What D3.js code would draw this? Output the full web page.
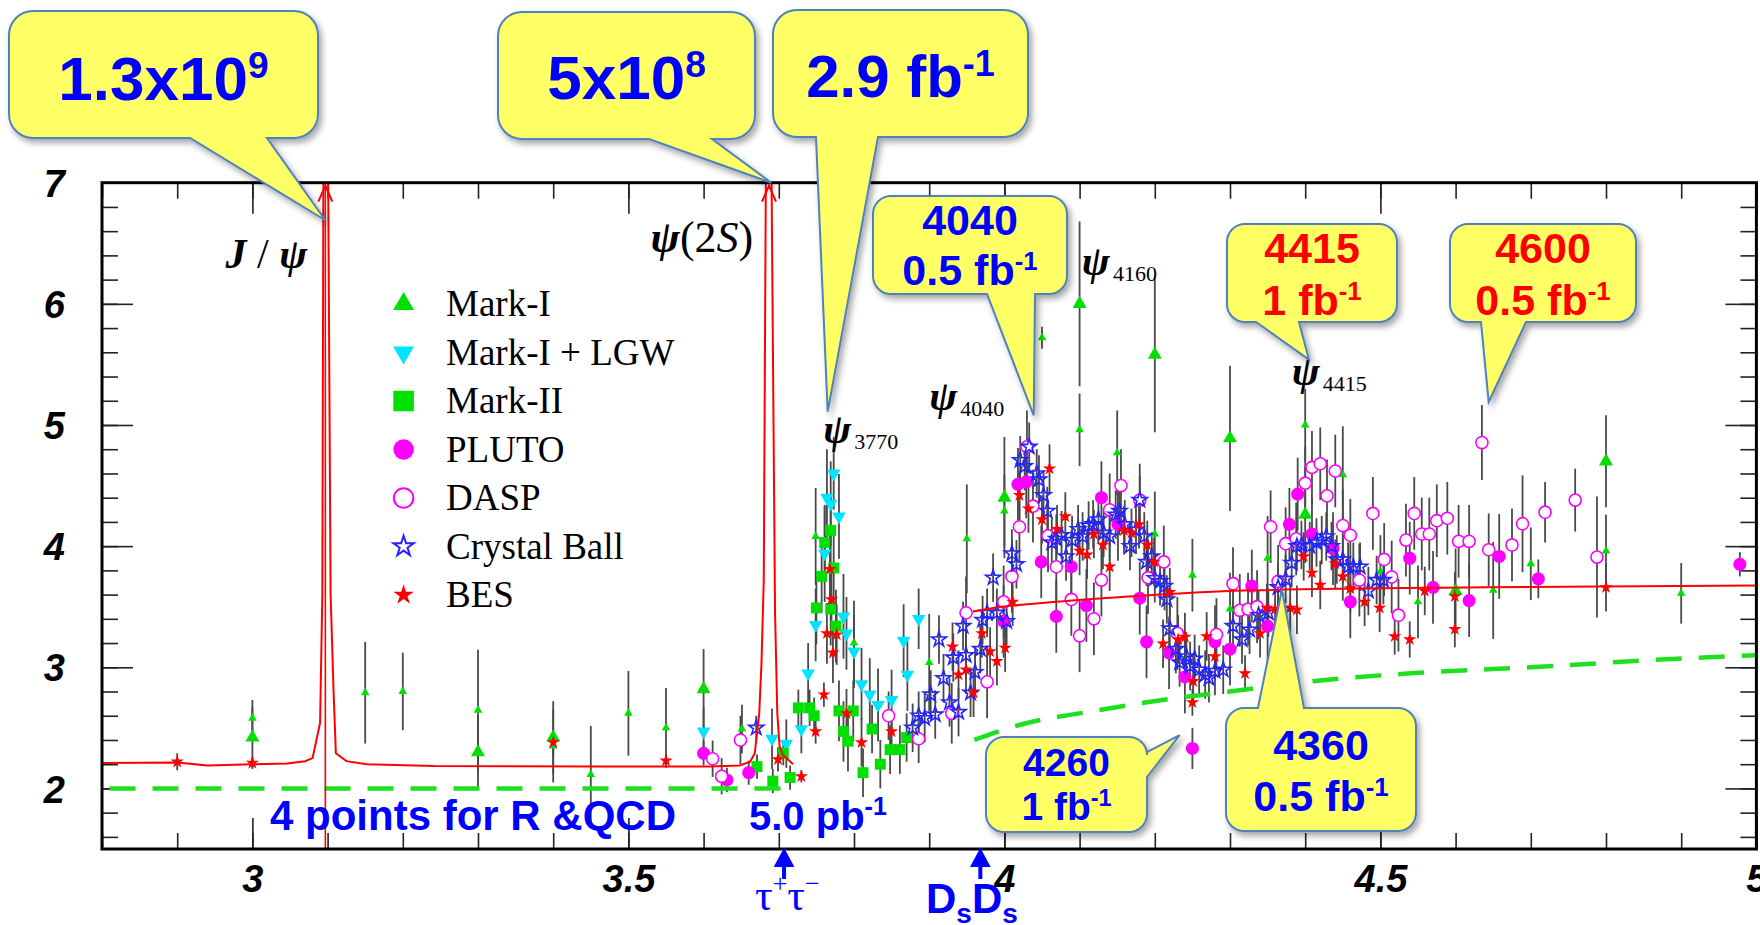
<!DOCTYPE html>
<html>
<head>
<meta charset="utf-8">
<title>R scan with BES callouts</title>
<style>
  body { margin: 0; background: #fff; }
  svg text { font-family: "Liberation Sans", Arial, sans-serif; }
  .tick text { font: italic bold 38px "Liberation Sans", Arial, sans-serif; fill: #000; }
  .legend text { font: 37px "Liberation Serif", "Times New Roman", serif; }
</style>
<script src="https://cdnjs.cloudflare.com/ajax/libs/d3/7.8.5/d3.min.js"></script>
</head>
<body>
<svg id="chart" width="1760" height="925"></svg>
<script>
// ---- data: [E (GeV), R, error] ----
const xTickLabels = [3, 3.5, 4, 4.5, 5];
const yTickLabels = [2, 3, 4, 5, 6, 7];

const markI = [
  [3.00, 2.42, 0.25], [3.30, 2.30, 0.30], [3.40, 2.42, 0.30], [3.60, 2.82, 0.33],
  [4.00, 4.40, 0.50], [4.10, 6.00, 0.68], [4.20, 5.58, 0.64], [4.30, 4.89, 0.60],
  [4.40, 4.26, 0.40], [4.60, 3.63, 0.35], [4.80, 4.70, 0.38]
];
const markISmall = [
  [3.00, 2.58, 0.15], [3.15, 2.79, 0.42], [3.20, 2.80, 0.32], [3.30, 2.645, 0.50],
  [3.40, 2.35, 0.30], [3.45, 2.115, 0.40], [3.50, 2.62, 0.35], [3.55, 2.50, 0.33],
  [3.651, 2.49, 0.20], [3.749, 4.08, 0.40], [3.80, 3.20, 0.35], [3.90, 3.04, 0.40],
  [3.95, 4.06, 0.45], [4.00, 4.29, 0.30], [4.05, 5.72, 0.09], [4.10, 4.96, 0.30],
  [4.15, 4.77, 0.35], [4.20, 4.10, 0.35], [4.25, 3.76, 0.30], [4.30, 3.48, 0.30],
  [4.35, 3.90, 0.35], [4.40, 5.00, 0.30], [4.45, 4.59, 0.40], [4.50, 3.79, 0.30],
  [4.55, 3.54, 0.30], [4.65, 3.635, 0.40], [4.70, 3.855, 0.30], [4.80, 3.96, 0.30],
  [4.90, 3.61, 0.25]
];
const markILGW = [
  [3.600, 2.47, 0.20], [3.691, 2.41, 0.25], [3.710, 2.37, 0.20], [3.730, 2.49, 0.20],
  [3.739, 2.95, 0.25], [3.749, 3.35, 0.30], [3.761, 3.94, 0.40], [3.764, 4.40, 0.40],
  [3.769, 4.35, 0.35], [3.773, 4.60, 0.30], [3.780, 4.245, 0.35], [3.786, 3.42, 0.35],
  [3.790, 3.28, 0.30], [3.800, 3.13, 0.30], [3.810, 2.86, 0.30], [3.821, 2.775, 0.30],
  [3.832, 2.69, 0.30], [3.850, 2.73, 0.25], [3.866, 3.22, 0.30], [3.871, 2.94, 0.30],
  [3.886, 3.40, 0.25]
];
const markII = [
  [3.671, 2.18, 0.10], [3.692, 2.06, 0.10], [3.706, 2.29, 0.10], [3.715, 2.09, 0.10],
  [3.726, 2.665, 0.15], [3.741, 2.665, 0.15], [3.747, 2.60, 0.15], [3.750, 3.49, 0.30],
  [3.757, 3.75, 0.30], [3.761, 4.03, 0.30], [3.769, 4.13, 0.30], [3.773, 3.82, 0.30],
  [3.769, 3.48, 0.30], [3.776, 3.34, 0.30], [3.780, 2.64, 0.25], [3.786, 2.47, 0.25],
  [3.792, 2.39, 0.25], [3.799, 2.64, 0.25], [3.812, 2.13, 0.20], [3.824, 2.49, 0.20],
  [3.835, 2.20, 0.20], [3.848, 2.32, 0.20], [3.861, 2.32, 0.20], [3.870, 2.42, 0.20]
];
const pluto = [
  [3.600, 2.29, 0.10], [3.631, 2.07, 0.10], [3.660, 2.13, 0.10], [3.999, 3.38, 0.30],
  [4.018, 4.51, 0.30], [4.029, 4.53, 0.30], [4.049, 3.87, 0.30], [4.069, 3.42, 0.30],
  [4.089, 3.83, 0.30], [4.109, 3.51, 0.30], [4.129, 4.40, 0.30], [4.151, 4.18, 0.30],
  [4.180, 3.57, 0.30], [4.189, 3.21, 0.30], [4.219, 3.12, 0.30], [4.240, 2.92, 0.30],
  [4.250, 2.33, 0.17], [4.280, 3.21, 0.30], [4.300, 3.15, 0.30], [4.329, 3.67, 0.30],
  [4.350, 3.34, 0.30], [4.379, 4.18, 0.30], [4.390, 4.43, 0.30], [4.409, 4.10, 0.30],
  [4.437, 3.98, 0.30], [4.460, 3.54, 0.30], [4.539, 3.90, 0.30], [4.570, 3.66, 0.30],
  [4.618, 3.55, 0.30], [4.658, 3.915, 0.35], [4.710, 3.73, 0.16], [4.978, 3.85, 0.10]
];
const dasp = [
  [3.612, 2.245, 0.15], [3.624, 2.10, 0.15], [3.649, 2.40, 0.20], [3.846, 2.60, 0.20],
  [3.886, 2.41, 0.20], [3.930, 2.62, 0.25], [3.949, 3.45, 0.30], [3.977, 2.88, 0.30],
  [3.999, 3.54, 0.30], [4.010, 3.75, 0.30], [4.020, 4.16, 0.30], [4.030, 4.82, 0.30],
  [4.038, 4.33, 0.30], [4.058, 4.085, 0.30], [4.069, 3.83, 0.30], [4.089, 3.56, 0.30],
  [4.100, 3.26, 0.30], [4.119, 3.40, 0.30], [4.129, 3.72, 0.30], [4.140, 4.30, 0.30],
  [4.155, 4.50, 0.30], [4.180, 4.38, 0.30], [4.191, 3.74, 0.30], [4.212, 3.87, 0.30],
  [4.230, 3.28, 0.30], [4.282, 3.27, 0.30], [4.304, 3.69, 0.30], [4.313, 3.47, 0.30],
  [4.324, 3.48, 0.30], [4.336, 3.50, 0.30], [4.354, 4.16, 0.30], [4.364, 3.71, 0.30],
  [4.374, 4.02, 0.30], [4.388, 4.06, 0.30], [4.400, 4.52, 0.30], [4.409, 4.65, 0.30],
  [4.420, 4.68, 0.30], [4.429, 4.415, 0.30], [4.440, 4.62, 0.30], [4.450, 4.17, 0.30],
  [4.460, 4.09, 0.30], [4.472, 3.72, 0.30], [4.490, 4.27, 0.30], [4.505, 3.89, 0.30],
  [4.515, 3.745, 0.30], [4.524, 3.43, 0.30], [4.534, 4.05, 0.30], [4.545, 4.27, 0.30],
  [4.555, 4.10, 0.30], [4.565, 4.10, 0.30], [4.575, 4.21, 0.30], [4.589, 4.23, 0.30],
  [4.604, 4.04, 0.30], [4.618, 4.04, 0.30], [4.635, 4.855, 0.31], [4.644, 3.97, 0.30],
  [4.675, 4.01, 0.30], [4.689, 4.185, 0.40], [4.719, 4.28, 0.25], [4.759, 4.38, 0.26],
  [4.788, 3.91, 0.50]
];
const crystalBall = [
  [3.670, 2.50, 0.10], [3.878, 2.50, 0.20], [3.886, 2.60, 0.20], [3.894, 2.58, 0.20],
  [3.902, 2.775, 0.20], [3.908, 2.61, 0.20], [3.913, 3.23, 0.20], [3.919, 2.91, 0.20],
  [3.927, 2.71, 0.20], [3.932, 3.08, 0.20], [3.939, 2.63, 0.20], [3.945, 3.34, 0.20],
  [3.949, 3.10, 0.20], [3.955, 2.79, 0.20], [3.961, 2.96, 0.20], [3.968, 3.15, 0.20],
  [3.971, 3.39, 0.20], [3.977, 3.45, 0.20], [3.985, 3.74, 0.20], [3.990, 3.45, 0.20],
  [4.003, 3.38, 0.20], [4.010, 3.94, 0.20], [4.016, 3.85, 0.20], [4.021, 4.71, 0.20],
  [4.027, 4.66, 0.20], [4.033, 4.82, 0.20], [4.043, 4.60, 0.20], [4.046, 4.55, 0.20],
  [4.052, 4.42, 0.20], [4.057, 4.29, 0.20], [4.063, 4.03, 0.20], [4.069, 4.06, 0.20],
  [4.076, 4.09, 0.20], [4.082, 3.915, 0.20], [4.090, 4.05, 0.20], [4.098, 4.14, 0.20],
  [4.104, 4.08, 0.20], [4.112, 4.17, 0.20], [4.118, 4.18, 0.20], [4.125, 4.22, 0.20],
  [4.132, 4.11, 0.20], [4.140, 4.08, 0.20], [4.148, 4.26, 0.20], [4.153, 4.29, 0.20],
  [4.160, 4.18, 0.20], [4.167, 4.00, 0.20], [4.175, 4.135, 0.20], [4.180, 4.38, 0.20],
  [4.186, 4.08, 0.20], [4.189, 3.87, 0.20], [4.196, 3.915, 0.20], [4.200, 3.735, 0.20],
  [4.207, 3.71, 0.20], [4.213, 3.67, 0.20], [4.216, 3.56, 0.20], [4.220, 3.32, 0.20],
  [4.228, 3.15, 0.20], [4.233, 3.04, 0.20], [4.242, 3.09, 0.20], [4.247, 3.01, 0.20],
  [4.253, 3.07, 0.20], [4.259, 2.98, 0.20], [4.267, 2.94, 0.20], [4.272, 2.91, 0.20],
  [4.280, 2.97, 0.20], [4.291, 2.98, 0.20], [4.304, 3.34, 0.20], [4.316, 3.23, 0.20],
  [4.326, 3.31, 0.20], [4.338, 3.43, 0.20], [4.351, 3.45, 0.20], [4.364, 3.66, 0.20],
  [4.374, 3.73, 0.20], [4.382, 3.86, 0.20], [4.389, 4.00, 0.20], [4.395, 4.01, 0.20],
  [4.406, 4.00, 0.20], [4.415, 4.03, 0.20], [4.422, 4.05, 0.20], [4.428, 4.08, 0.20],
  [4.435, 4.00, 0.20], [4.442, 3.89, 0.20], [4.450, 3.89, 0.20], [4.457, 3.83, 0.20],
  [4.464, 3.83, 0.20], [4.473, 3.83, 0.20], [4.484, 3.63, 0.20], [4.495, 3.72, 0.20],
  [4.504, 3.72, 0.20]
];
const bes = [
  [2.900, 2.22, 0.07], [3.000, 2.21, 0.05], [3.400, 2.38, 0.10], [3.550, 2.23, 0.05],
  [3.699, 2.24, 0.10], [3.730, 2.10, 0.05], [3.749, 2.47, 0.10], [3.760, 2.775, 0.10],
  [3.768, 3.81, 0.30], [3.770, 3.56, 0.30], [3.764, 3.28, 0.25], [3.777, 3.27, 0.25],
  [3.772, 3.12, 0.25], [3.790, 2.62, 0.20], [3.810, 2.38, 0.20], [3.850, 2.47, 0.15],
  [3.931, 3.17, 0.20], [3.939, 2.94, 0.20], [3.949, 2.98, 0.20], [3.959, 2.79, 0.20],
  [3.970, 3.28, 0.20], [3.981, 3.13, 0.20], [3.990, 3.05, 0.20], [4.001, 3.16, 0.20],
  [4.011, 3.54, 0.20], [4.020, 4.42, 0.20], [4.032, 4.31, 0.20], [4.050, 4.22, 0.20],
  [4.060, 4.64, 0.20], [4.070, 4.14, 0.20], [4.081, 4.245, 0.20], [4.100, 3.96, 0.20],
  [4.110, 3.93, 0.20], [4.119, 4.10, 0.20], [4.131, 4.01, 0.20], [4.140, 3.83, 0.20],
  [4.159, 4.13, 0.20], [4.169, 4.11, 0.20], [4.179, 4.18, 0.20], [4.190, 4.01, 0.20],
  [4.199, 3.87, 0.20], [4.211, 3.195, 0.20], [4.220, 3.62, 0.20], [4.231, 3.23, 0.20],
  [4.240, 3.25, 0.20], [4.251, 2.885, 0.20], [4.250, 2.71, 0.11], [4.269, 3.255, 0.20],
  [4.280, 3.09, 0.20], [4.320, 2.95, 0.15], [4.340, 3.28, 0.20], [4.349, 3.49, 0.20],
  [4.360, 3.48, 0.20], [4.380, 3.49, 0.20], [4.389, 3.475, 0.20], [4.398, 3.915, 0.20],
  [4.409, 3.78, 0.20], [4.420, 3.68, 0.20], [4.440, 3.855, 0.20], [4.450, 3.75, 0.20],
  [4.460, 3.65, 0.20], [4.479, 3.54, 0.20], [4.499, 3.49, 0.20], [4.519, 3.255, 0.15],
  [4.539, 3.23, 0.15], [4.559, 3.63, 0.20], [4.599, 3.315, 0.15], [4.599, 3.585, 0.20],
  [4.800, 3.66, 0.20]
];

// theory curves [E, R]
const fitLow = [
  [2.80, 2.21], [2.90, 2.215], [2.94, 2.19], [3.00, 2.20], [3.046, 2.205], [3.07, 2.225],
  [3.08, 2.25], [3.09, 2.54], [3.093, 3.6], [3.0945, 7.3], [3.1005, 7.3], [3.104, 3.6],
  [3.108, 2.79], [3.111, 2.29], [3.125, 2.225], [3.152, 2.20], [3.241, 2.185],
  [3.462, 2.18], [3.609, 2.18], [3.648, 2.19], [3.662, 2.22], [3.668, 2.29],
  [3.674, 2.62], [3.677, 3.04], [3.680, 3.72], [3.683, 7.3], [3.690, 7.3],
  [3.695, 3.45], [3.698, 2.62], [3.701, 2.35], [3.705, 2.28], [3.719, 2.20]
];
const fitHigh = [
  [3.958, 3.46], [3.985, 3.49], [4.07, 3.54], [4.207, 3.60], [4.33, 3.635],
  [4.64, 3.66], [5.00, 3.675]
];
const pqcdLow = [[2.81, 2.0], [3.72, 2.0]];
const pqcdHigh = [
  [3.96, 2.40], [4.03, 2.54], [4.11, 2.63], [4.21, 2.73], [4.30, 2.80],
  [4.41, 2.885], [4.54, 2.95], [4.73, 3.01], [4.86, 3.06], [5.00, 3.10]
];
const resonances = [3.097, 3.687];   // J/psi, psi(2S)

// ---- layout ----
const plot = {left: 102, right: 1756.4, top: 182.7, bottom: 849};
const blue = "#0000FF", red = "#FF0000", green = "#00E000",
      cyan = "#00E5FF", magenta = "#FF00FF", starBlue = "#2424FF";

const x = d3.scaleLinear().domain([2.8, 5.0]).range([plot.left, plot.right]);
const y = d3.scaleLinear().domain([1.5, 7.0]).range([plot.bottom, plot.top]);

const svg = d3.select("#chart");
const defs = svg.append("defs");
defs.append("clipPath").attr("id", "clip").append("rect")
  .attr("x", plot.left).attr("y", plot.top)
  .attr("width", plot.right - plot.left).attr("height", plot.bottom - plot.top);
defs.append("filter").attr("id", "shadow")
  .attr("x", "-10%").attr("y", "-10%").attr("width", "130%").attr("height", "130%")
  .append("feDropShadow").attr("dx", 3).attr("dy", 4).attr("stdDeviation", 3)
  .attr("flood-color", "#000").attr("flood-opacity", 0.35);

// ---- axes (ticks inside the frame) ----
const xMinor = d3.range(28, 51).map(d => d / 10);
const yMinor = d3.range(16, 71, 2).map(d => d / 10);

function axis(gen, t) {
  const g = svg.append("g").attr("transform", t).call(gen);
  g.select(".domain").remove();
  g.selectAll(".tick line").attr("stroke", "#222").attr("stroke-width", 1.6);
  return g;
}
const fmt = d => String(d);
axis(d3.axisBottom(x).tickValues(xMinor).tickSize(-16).tickFormat(""), `translate(0,${plot.bottom})`);
axis(d3.axisBottom(x).tickValues(xTickLabels).tickSize(-31).tickPadding(16).tickFormat(fmt), `translate(0,${plot.bottom})`);
axis(d3.axisTop(x).tickValues(xMinor).tickSize(-16).tickFormat(""), `translate(0,${plot.top})`);
axis(d3.axisTop(x).tickValues(xTickLabels).tickSize(-31).tickFormat(""), `translate(0,${plot.top})`);
axis(d3.axisLeft(y).tickValues(yMinor).tickSize(-16).tickFormat(""), `translate(${plot.left},0)`);
axis(d3.axisLeft(y).tickValues(yTickLabels).tickSize(-31).tickPadding(37).tickFormat(fmt), `translate(${plot.left},0)`)
  .selectAll("text").attr("dy", "0.36em");
axis(d3.axisRight(y).tickValues(yMinor).tickSize(-16).tickFormat(""), `translate(${plot.right},0)`);
axis(d3.axisRight(y).tickValues(yTickLabels).tickSize(-31).tickFormat(""), `translate(${plot.right},0)`);

// ---- data ----
const series = [
  {data: markI, symbol: d3.symbolTriangle, size: 85, fill: green},
  {data: markISmall, symbol: d3.symbolTriangle, size: 32, fill: green},
  {data: markILGW, symbol: d3.symbolTriangle, size: 80, fill: cyan, rot: 180},
  {data: markII, symbol: d3.symbolSquare, size: 120, fill: green},
  {data: pluto, symbol: d3.symbolCircle, size: 135, fill: magenta},
  {data: dasp, symbol: d3.symbolCircle, size: 115, fill: "#fff", stroke: magenta},
  {data: crystalBall, symbol: d3.symbolStar, size: 70, fill: "none", stroke: starBlue},
  {data: bes, symbol: d3.symbolStar, size: 55, fill: red}
];

const inner = svg.append("g").attr("clip-path", "url(#clip)");

const eb = inner.append("g").attr("stroke", "#2a2a2a").attr("stroke-width", 1.8).attr("opacity", 0.85);
series.forEach(s => {
  eb.selectAll(null).data(s.data).join("line")
    .attr("x1", d => x(d[0])).attr("x2", d => x(d[0]))
    .attr("y1", d => y(d[1] - d[2])).attr("y2", d => y(d[1] + d[2]));
});

series.forEach(s => {
  inner.append("g").selectAll("path").data(s.data).join("path")
    .attr("d", d3.symbol(s.symbol, s.size))
    .attr("transform", d => `translate(${x(d[0])},${y(d[1])})` + (s.rot ? ` rotate(${s.rot})` : ""))
    .attr("fill", s.fill)
    .attr("stroke", s.stroke || "none")
    .attr("stroke-width", 1.6);
});

// curves
const line = d3.line().x(d => x(d[0])).y(d => y(d[1]));
inner.append("path").datum(fitLow).attr("d", line)
  .attr("fill", "none").attr("stroke", red).attr("stroke-width", 2);
inner.append("path").datum(fitHigh).attr("d", line.curve(d3.curveMonotoneX))
  .attr("fill", "none").attr("stroke", red).attr("stroke-width", 2);
[pqcdLow, pqcdHigh].forEach(p => {
  inner.append("path").datum(p).attr("d", line.curve(d3.curveMonotoneX))
    .attr("fill", "none").attr("stroke", "#1EE01E").attr("stroke-width", 4.5)
    .attr("stroke-dasharray", "26,17");
});
// J/psi full-height line and top arrows
inner.append("line")
  .attr("x1", x(resonances[0])).attr("x2", x(resonances[0]))
  .attr("y1", y(1.5)).attr("y2", y(7)).attr("stroke", red).attr("stroke-width", 1.6);
inner.selectAll(null).data(resonances).join("path")
  .attr("d", d => `M${x(d) - 7},${plot.top + 19}L${x(d)},${plot.top + 3}L${x(d) + 7},${plot.top + 19}`)
  .attr("fill", "none").attr("stroke", red).attr("stroke-width", 2);

// frame
svg.append("rect")
  .attr("x", plot.left).attr("y", plot.top)
  .attr("width", plot.right - plot.left).attr("height", plot.bottom - plot.top)
  .attr("fill", "none").attr("stroke", "#000").attr("stroke-width", 3);

// ---- legend ----
const legend = [
  {name: "Mark-I", symbol: d3.symbolTriangle, size: 190, fill: green},
  {name: "Mark-I + LGW", symbol: d3.symbolTriangle, size: 190, fill: cyan, rot: 180},
  {name: "Mark-II", symbol: d3.symbolSquare, size: 420, fill: green},
  {name: "PLUTO", symbol: d3.symbolCircle, size: 330, fill: magenta},
  {name: "DASP", symbol: d3.symbolCircle, size: 300, fill: "none", stroke: magenta},
  {name: "Crystal Ball", symbol: d3.symbolStar, size: 130, fill: "none", stroke: starBlue},
  {name: "BES", symbol: d3.symbolStar, size: 130, fill: red}
];
const lg = svg.append("g").attr("class", "legend");
legend.forEach((l, i) => {
  const cy = 304 + i * 48.5;
  lg.append("path").attr("d", d3.symbol(l.symbol, l.size))
    .attr("transform", `translate(403.6,${cy})` + (l.rot ? ` rotate(${l.rot})` : ""))
    .attr("fill", l.fill).attr("stroke", l.stroke || "none").attr("stroke-width", 2);
  lg.append("text").attr("x", 446).attr("y", cy + 12).text(l.name);
});

// ---- resonance labels ----
function psiLabel(E, R, sub) {
  const t = svg.append("text").attr("x", x(E)).attr("y", y(R))
    .style("font-family", "'Liberation Serif', serif");
  t.append("tspan").text("ψ").attr("font-size", 42).attr("font-style", "italic").attr("font-weight", "bold");
  t.append("tspan").text(sub).attr("font-size", 22).attr("dx", 3).attr("dy", 6);
}
psiLabel(3.759, 4.85, "3770");
psiLabel(3.900, 5.12, "4040");
psiLabel(4.103, 6.24, "4160");
psiLabel(4.382, 5.33, "4415");

const jpsi = svg.append("text").attr("x", x(3.073)).attr("y", y(6.30))
  .attr("text-anchor", "end").style("font-family", "'Liberation Serif', serif")
  .attr("font-size", 42).attr("font-weight", "bold").attr("font-style", "italic");
jpsi.append("tspan").text("J");
jpsi.append("tspan").text(" / ").attr("font-style", "normal").attr("font-weight", "normal");
jpsi.append("tspan").text("ψ");

const psi2s = svg.append("text").attr("x", x(3.666)).attr("y", y(6.43))
  .attr("text-anchor", "end").style("font-family", "'Liberation Serif', serif")
  .attr("font-size", 44);
psi2s.append("tspan").text("ψ").attr("font-style", "italic").attr("font-weight", "bold");
psi2s.append("tspan").text("(2");
psi2s.append("tspan").text("S").attr("font-style", "italic");
psi2s.append("tspan").text(")");

// ---- blue in-plot notes ----
svg.append("text").attr("x", 270).attr("y", 830).attr("fill", blue)
  .attr("font-size", 42).attr("font-weight", "bold").text("4 points for R &QCD");
const pb = svg.append("text").attr("x", 749).attr("y", 830).attr("fill", blue)
  .attr("font-size", 40).attr("font-weight", "bold");
pb.append("tspan").text("5.0 pb");
pb.append("tspan").text("-1").attr("font-size", 25).attr("dy", -15);

// threshold arrows
const thresholds = [3.707, 3.968];
svg.selectAll(null).data(thresholds).join("path")
  .attr("d", d => `M${x(d)},${plot.bottom + 30}V${plot.bottom + 12}M${x(d) - 7},${plot.bottom + 16}L${x(d)},${plot.bottom + 3}L${x(d) + 7},${plot.bottom + 16}Z`)
  .attr("fill", blue).attr("stroke", blue).attr("stroke-width", 4);
const tau = svg.append("text").attr("x", 755).attr("y", 910).attr("fill", blue)
  .style("font-family", "'Liberation Serif', serif").attr("font-size", 44);
tau.append("tspan").text("τ");
tau.append("tspan").text("+").attr("font-size", 26).attr("dy", -18);
tau.append("tspan").text("τ").attr("dy", 18);
tau.append("tspan").text("−").attr("font-size", 26).attr("dy", -18);
const ds = svg.append("text").attr("x", 926).attr("y", 913).attr("fill", blue)
  .attr("font-size", 42).attr("font-weight", "bold");
ds.append("tspan").text("D");
ds.append("tspan").text("s").attr("font-size", 28).attr("dy", 10);
ds.append("tspan").text("D").attr("dy", -10);
ds.append("tspan").text("s").attr("font-size", 28).attr("dy", 10);

// ---- callouts ----
function calloutPath(b, side, a, c, tx, ty) {
  const [x0, y0, x1, y1] = b, r = b[4];
  const p = d3.path();
  p.moveTo(x0 + r, y0);
  if (side === "top") { p.lineTo(a, y0); p.lineTo(tx, ty); p.lineTo(c, y0); }
  p.lineTo(x1 - r, y0);
  p.arcTo(x1, y0, x1, y0 + r, r);
  if (side === "right") { p.lineTo(x1, a); p.lineTo(tx, ty); p.lineTo(x1, c); }
  p.lineTo(x1, y1 - r);
  p.arcTo(x1, y1, x1 - r, y1, r);
  if (side === "bottom") { p.lineTo(c, y1); p.lineTo(tx, ty); p.lineTo(a, y1); }
  p.lineTo(x0 + r, y1);
  p.arcTo(x0, y1, x0, y1 - r, r);
  p.lineTo(x0, y0 + r);
  p.arcTo(x0, y0, x0 + r, y0, r);
  p.closePath();
  return p.toString();
}

const callouts = [
  {box: [9, 11, 318, 138, 24], side: "bottom", base: [190, 267], tip: [3.097, 6.69], color: blue, size: 62,
   lines: [{y: 100, main: "1.3x10", sup: "9"}]},
  {box: [498, 12, 755, 139, 24], side: "bottom", base: [649, 712], tip: [3.69, 7.0], color: blue, size: 62,
   lines: [{y: 99, main: "5x10", sup: "8"}]},
  {box: [773, 10, 1028, 137, 24], side: "bottom", base: [816, 878], tip: [3.765, 5.11], color: blue, size: 60,
   lines: [{y: 97, main: "2.9 fb", sup: "-1"}]},
  {box: [873, 196, 1067, 294, 18], side: "bottom", base: [987, 1035], tip: [4.039, 5.08], color: blue, size: 43,
   lines: [{y: 235, main: "4040"}, {y: 285, main: "0.5 fb", sup: "-1"}]},
  {box: [1227, 224, 1397, 322, 18], side: "bottom", base: [1256, 1299], tip: [4.405, 5.54], color: red, size: 43,
   lines: [{y: 263, main: "4415"}, {y: 315, main: "1 fb", sup: "-1"}]},
  {box: [1450, 224, 1636, 322, 18], side: "bottom", base: [1481, 1526], tip: [4.644, 5.19], color: red, size: 43,
   lines: [{y: 263, main: "4600"}, {y: 315, main: "0.5 fb", sup: "-1"}]},
  {box: [986, 737, 1147, 832, 18], side: "right", base: [752, 777], tip: [4.233, 2.44], color: blue, size: 39,
   lines: [{y: 776, main: "4260"}, {y: 820, main: "1 fb", sup: "-1"}]},
  {box: [1226, 708, 1416, 831, 18], side: "top", base: [1258, 1304], tip: [4.369, 3.64], color: blue, size: 43,
   lines: [{y: 760, main: "4360"}, {y: 811, main: "0.5 fb", sup: "-1"}]}
];

const cg = svg.append("g");
callouts.forEach(c => {
  cg.append("path")
    .attr("d", calloutPath(c.box, c.side, c.base[0], c.base[1], x(c.tip[0]), y(c.tip[1])))
    .attr("fill", "#FFFF66").attr("stroke", "#4F81BD").attr("stroke-width", 2)
    .attr("filter", "url(#shadow)");
  const cx = (c.box[0] + c.box[2]) / 2;
  c.lines.forEach(l => {
    const t = cg.append("text").attr("x", cx).attr("y", l.y).attr("text-anchor", "middle")
      .attr("fill", c.color).attr("font-size", c.size).attr("font-weight", "bold");
    t.append("tspan").text(l.main);
    if (l.sup) t.append("tspan").text(l.sup).attr("font-size", c.size * 0.6).attr("dy", -c.size * 0.35);
  });
});
</script>
</body>
</html>
